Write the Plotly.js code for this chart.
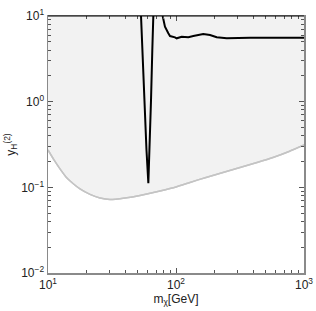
<!DOCTYPE html>
<html>
<head>
<meta charset="utf-8">
<script src="https://cdn.plot.ly/plotly-3.0.1.min.js"></script>
<style>html,body{margin:0;padding:0;background:#fff;}#chart{width:316px;height:311px;}</style>
</head>
<body>
<div id="chart"></div>
<script>
// Gray boundary curve (m_chi in GeV, y_H^(2))
var boundaryMass = [10, 11.14, 12.41, 13.82, 15.68, 17.78, 21.29, 25.48, 30.5, 39.96, 52.34, 75.0, 100, 128.6, 171.5, 232.8, 316.2, 429.5, 572.5, 764, 1000];
var boundaryY    = [0.2732, 0.2088, 0.164, 0.1322, 0.111, 0.0958, 0.0827, 0.0752, 0.0722, 0.0752, 0.0804, 0.0908, 0.1011, 0.1141, 0.1305, 0.1492, 0.1707, 0.1953, 0.2233, 0.2624, 0.3125];

// Black curve: resonance dip near m_h/2
var dipMass = [53.3, 56.2, 58.8, 60.8, 62.1, 63.8, 65.3, 66.5];
var dipY    = [10, 1.05, 0.273, 0.112, 0.273, 1.05, 4.01, 10];

// Black curve: high-mass branch
var highMass = [78.7, 82.0, 87.1, 89.8, 98.2, 101.2, 110.8, 124.8, 136.5, 163.3, 184.4, 208, 249, 379, 1000];
var highY    = [10, 7.5, 6.28, 5.84, 5.64, 5.49, 5.73, 5.64, 5.84, 6.17, 6.0, 5.64, 5.49, 5.58, 5.58];

// Tick labels
var xTickExps = [1, 2, 3];
var yTickExps = [-2, -1, 0, 1];

var xRangeLog = [1, 3];
var yRangeLog = [-2, 1];
var yTop = Math.pow(10, yRangeLog[1]);

function tickVals(exps) { return exps.map(function(e){ return Math.pow(10, e); }); }
function tickText(exps) { return exps.map(function(e){ return '10<sup>' + (e < 0 ? '\u2212' + (-e) : e) + '</sup>'; }); }

var grayLine = {color: '#c4c4c4', width: 1.5, shape: 'spline', smoothing: 0.6};
var traces = [
  {x: boundaryMass, y: boundaryY, mode: 'lines', line: grayLine, hoverinfo: 'skip'},
  {x: boundaryMass, y: boundaryMass.map(function(){return yTop;}), mode: 'lines',
   line: {width: 0, color: 'rgba(0,0,0,0)'}, fill: 'tonexty', fillcolor: '#f2f2f2', hoverinfo: 'skip'},
  {x: boundaryMass, y: boundaryY, mode: 'lines', line: grayLine, hoverinfo: 'skip'},
  {x: dipMass, y: dipY, mode: 'lines', line: {color: '#000', width: 2}},
  {x: highMass, y: highY, mode: 'lines', line: {color: '#000', width: 2}}
];

var fontFam = 'Liberation Sans, Arial, sans-serif';
var axisCommon = {
  type: 'log', showgrid: false, zeroline: false,
  showline: true, linecolor: '#8a8a8a', linewidth: 1.5, mirror: 'ticks',
  ticks: 'inside', ticklen: 5, tickcolor: '#555', tickwidth: 1,
  tickfont: {family: fontFam, size: 12, color: '#222'},
  minor: {ticks: 'inside', ticklen: 3, tickcolor: '#555', showgrid: false, dtick: 'D1'}
};

var layout = {
  width: 316, height: 311,
  margin: {l: 48, r: 12, t: 16, b: 38},
  paper_bgcolor: '#fff', plot_bgcolor: '#fff',
  showlegend: false,
  xaxis: Object.assign({}, axisCommon, {
    range: xRangeLog, tickmode: 'array', tickvals: tickVals(xTickExps), ticktext: tickText(xTickExps),
    title: {text: 'm<sub>χ</sub>[GeV]', standoff: 3, font: {family: fontFam, size: 12, color: '#222'}}
  }),
  yaxis: Object.assign({}, axisCommon, {
    range: yRangeLog, tickmode: 'array', tickvals: tickVals(yTickExps), ticktext: tickText(yTickExps),
    title: {text: 'y<sub>H</sub><sup>(2)</sup>', standoff: 3, font: {family: fontFam, size: 12, color: '#222'}}
  }),
  shapes: [
    {type: 'line', xref: 'paper', yref: 'paper', x0: 0, x1: 1, y0: 1, y1: 1, line: {color: '#000', width: 1}}
  ]
};

Plotly.newPlot('chart', traces, layout, {staticPlot: true, displayModeBar: false});
</script>
</body>
</html>
